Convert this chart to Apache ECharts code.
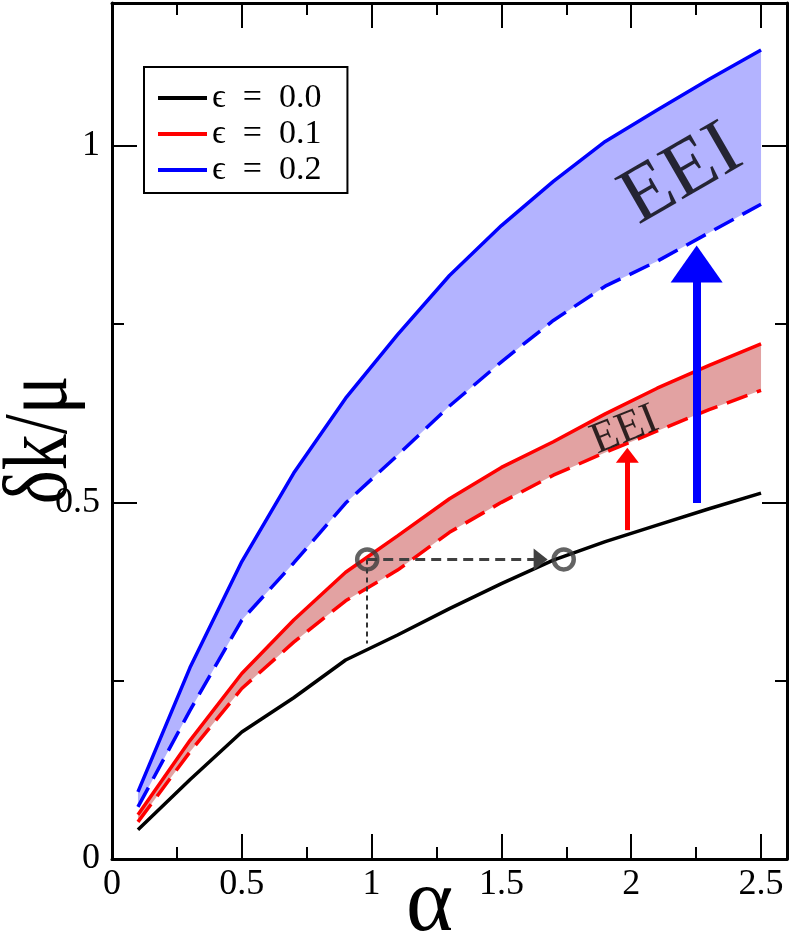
<!DOCTYPE html>
<html>
<head>
<meta charset="utf-8">
<script src="https://cdn.jsdelivr.net/npm/echarts@6/dist/echarts.min.js"></script>
<style>
html, body { margin: 0; padding: 0; background: #fff; }
#chart { width: 789px; height: 945px; }
</style>
</head>
<body>
<div id="chart"></div>
<script>
// alpha grid and the three epsilon curves (upper = solid, lower = dashed)
var alpha = [0.1, 0.3, 0.5, 0.7, 0.9, 1.1, 1.3, 1.5, 1.7, 1.9, 2.1, 2.3, 2.5];
var eps0 = [0.041, 0.111, 0.178, 0.226, 0.279, 0.314, 0.351, 0.386, 0.419, 0.445, 0.468, 0.491, 0.513];
var eps1Upper = [0.062, 0.166, 0.260, 0.335, 0.402, 0.453, 0.505, 0.549, 0.585, 0.624, 0.660, 0.692, 0.722];
var eps1Lower = [0.052, 0.150, 0.239, 0.304, 0.362, 0.405, 0.458, 0.500, 0.538, 0.570, 0.600, 0.630, 0.657];
var eps2Upper = [0.094, 0.268, 0.417, 0.541, 0.646, 0.735, 0.818, 0.888, 0.950, 1.006, 1.050, 1.093, 1.134];
var eps2Lower = [0.073, 0.208, 0.335, 0.415, 0.499, 0.566, 0.635, 0.697, 0.755, 0.803, 0.838, 0.878, 0.918];

var legendNames = ['ϵ\u2002=\u20020.0', 'ϵ\u2002=\u20020.1', 'ϵ\u2002=\u20020.2'];

// annotation points
var circlePts = [[0.983, 0.42], [1.74, 0.42]];
var shiftArrow = [[0.983, 0.42], [1.651, 0.42]];
var dropLine = [[0.983, 0.42], [0.983, 0.302]];
var redArrow = [[1.985, 0.461], [1.985, 0.566]];
var blueArrow = [[2.252, 0.499], [2.252, 0.834]];
var eeiSmall = [1.975, 0.601];
var eeiBig = [2.194, 0.958];

var SERIF = 'Liberation Serif, Times New Roman, serif';

function pairs(xs, ys) {
    return xs.map(function (x, i) { return [x, ys[i]]; });
}

function band(lower, upper, fill) {
    return {
        type: 'custom',
        silent: true,
        z: 1,
        data: alpha.map(function (a, i) { return [a, lower[i], upper[i]]; }),
        encode: { x: 0, y: [1, 2] },
        renderItem: function (params, api) {
            if (params.dataIndex !== 0) return null;
            var pts = [];
            for (var i = 0; i < alpha.length; i++) pts.push(api.coord([alpha[i], upper[i]]));
            for (var j = alpha.length - 1; j >= 0; j--) pts.push(api.coord([alpha[j], lower[j]]));
            return { type: 'polygon', shape: { points: pts }, style: { fill: fill, stroke: null } };
        }
    };
}

function xAx(pos, interval, len, main) {
    return {
        type: 'value', position: pos, min: 0, max: 2.6, interval: interval,
        axisLine: { show: main, onZero: false, lineStyle: { color: '#000', width: 3 } },
        axisTick: { inside: true, length: len, lineStyle: { color: '#000', width: 2 } },
        axisLabel: { show: main && pos === 'bottom', showMaxLabel: false, fontSize: 36,
            fontFamily: SERIF, color: '#000', margin: 8 },
        splitLine: { show: false },
        name: main && pos === 'bottom' ? 'α' : '',
        nameLocation: 'middle', nameGap: 2, nameMoveOverlap: false,
        nameTextStyle: { fontSize: 90, fontFamily: SERIF, color: '#000', padding: [0, 40, 0, 0] }
    };
}

function yAx(pos, interval, len, main) {
    return {
        type: 'value', position: pos, min: 0, max: 1.2, interval: interval,
        axisLine: { show: main, onZero: false, lineStyle: { color: '#000', width: 3 } },
        axisTick: { inside: true, length: len, lineStyle: { color: '#000', width: 2 } },
        axisLabel: { show: main && pos === 'left', showMaxLabel: false, fontSize: 36,
            fontFamily: SERIF, color: '#000', margin: 12 },
        splitLine: { show: false }
    };
}

function arrow(pts, color, width, head, dash) {
    return {
        type: 'line', data: [], silent: true,
        markLine: {
            silent: true, animation: false,
            label: { show: false },
            lineStyle: { color: color, width: width, type: dash || 'solid' },
            data: [[
                { coord: pts[0], symbol: 'none' },
                { coord: pts[1], symbol: head ? 'triangle' : 'none', symbolSize: head || 1 }
            ]]
        }
    };
}

function eei(pt, size, rot) {
    return {
        type: 'scatter', silent: true, symbolSize: 0, z: 5,
        data: [pt],
        label: { show: true, position: 'inside', formatter: 'EEI', rotate: rot,
            fontSize: size, fontFamily: SERIF, color: '#000' }
    };
}

var chart = echarts.init(document.getElementById('chart'));
chart.setOption({
    animation: false,
    backgroundColor: '#fff',
    grid: { left: 112, right: 2, top: 3, bottom: 86, containLabel: false, outerBoundsMode: 'none' },
    xAxis: [xAx('bottom', 0.5, 25, true), xAx('bottom', 0.25, 12, false),
            xAx('top', 0.5, 25, true), xAx('top', 0.25, 12, false)],
    yAxis: [yAx('left', 0.5, 25, true), yAx('left', 0.25, 12, false),
            yAx('right', 0.5, 25, true), yAx('right', 0.25, 12, false)],
    // y title: wide glyphs as in the original, stretched along the text direction
    graphic: [{
        type: 'text', x: 42, y: 440, rotation: Math.PI / 2, scaleY: 1.27, silent: true,
        style: { text: 'δk/μ', font: '72px ' + SERIF, fill: '#000',
            textAlign: 'center', textVerticalAlign: 'middle' }
    }],
    legend: {
        data: legendNames, orient: 'vertical', left: 144, top: 67,
        icon: 'rect', itemWidth: 49, itemHeight: 4, itemGap: 2,
        padding: [14, 26, 6, 14], borderColor: '#000', borderWidth: 2,
        selectedMode: false,
        textStyle: { fontSize: 34, fontFamily: SERIF, color: '#000', lineHeight: 34 }
    },
    series: [
        band(eps2Lower, eps2Upper, '#b3b3ff'),
        band(eps1Lower, eps1Upper, '#e2a2a2'),
        { name: 'eps2 lower', type: 'line', data: pairs(alpha, eps2Lower), symbol: 'none',
          lineStyle: { color: '#0000ff', width: 3.5, type: [22, 10] } },
        { name: 'eps1 lower', type: 'line', data: pairs(alpha, eps1Lower), symbol: 'none',
          lineStyle: { color: '#ff0000', width: 3.5, type: [22, 10] } },
        { name: legendNames[2], type: 'line', data: pairs(alpha, eps2Upper), symbol: 'none',
          itemStyle: { color: '#0000ff' }, lineStyle: { color: '#0000ff', width: 3.5 } },
        { name: legendNames[1], type: 'line', data: pairs(alpha, eps1Upper), symbol: 'none',
          itemStyle: { color: '#ff0000' }, lineStyle: { color: '#ff0000', width: 3.5 } },
        { name: legendNames[0], type: 'line', data: pairs(alpha, eps0), symbol: 'none',
          itemStyle: { color: '#000' }, lineStyle: { color: '#000', width: 3.5 } },
        arrow(dropLine, '#333', 2, null, [5, 4]),
        arrow(shiftArrow, '#404040', 3, [22, 14], [10, 6]),
        arrow(redArrow, '#ff0000', 5, [23, 15]),
        arrow(blueArrow, '#0000ff', 8, [52, 37]),
        { type: 'scatter', silent: true, z: 6, data: circlePts, symbol: 'circle', symbolSize: 20,
          itemStyle: { color: 'rgba(0,0,0,0)', borderColor: '#3c3c3c', borderWidth: 4.5 } },
        eei(eeiSmall, 44, 22),
        eei(eeiBig, 80, 30)
    ]
});
</script>
</body>
</html>
